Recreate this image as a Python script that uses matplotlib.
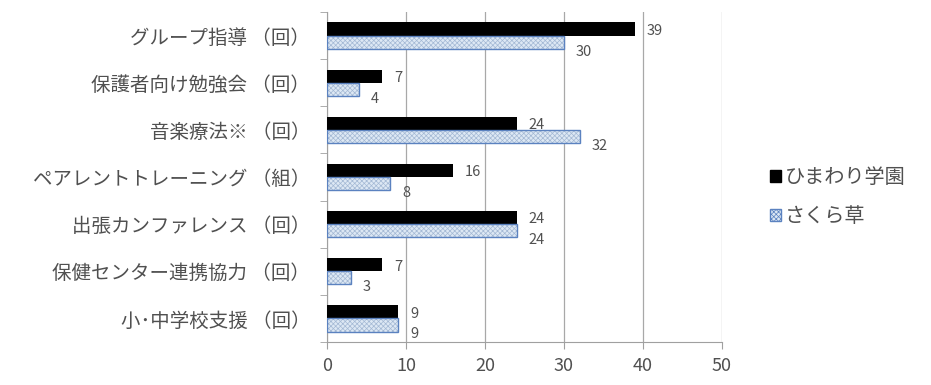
import matplotlib
matplotlib.use("Agg")
import matplotlib.pyplot as plt
import numpy as np
from matplotlib.patches import Patch

plt.rcParams['font.family'] = ['Noto Sans CJK JP', 'DejaVu Sans']
plt.rcParams['hatch.linewidth'] = 0.5

categories = ["グループ指導 （回）", "保護者向け勉強会 （回）", "音楽療法※ （回）",
              "ペアレントトレーニング （組）", "出張カンファレンス （回）",
              "保健センター連携協力 （回）", "小･中学校支援 （回）"]
himawari = [39, 7, 24, 16, 24, 7, 9]
sakura = [30, 4, 32, 8, 24, 3, 9]
series_names = ["ひまわり学園", "さくら草"]
xticks = [0, 10, 20, 30, 40, 50]

txt = "#505050"
blue_fill = "#dde8f4"
blue_hatch = "#a3b8d4"
blue_edge = "#5b82c0"

fig = plt.figure(figsize=(9.31, 3.85), dpi=100)
ax = fig.add_axes([327/931, 1-342/385, (722-327)/931, (342-12)/385])

n = len(categories)
y = np.arange(n)
h = 0.28
ax.barh(y - h/2, himawari, height=h, color="black", zorder=3)
# hatched fill, then a crisp outline on top
ax.barh(y + h/2, sakura, height=h, facecolor=blue_fill, edgecolor=blue_hatch,
        hatch="xxxxxxx", linewidth=0, zorder=3)
ax.barh(y + h/2, sakura, height=h, fill=False, edgecolor=blue_edge,
        linewidth=1.0, zorder=4)

for yi, v in zip(y, himawari):
    ax.text(v + 1.5, yi - h/2 + 0.04, str(v), va="center", ha="left",
            fontsize=10.5, color=txt)
for yi, v in zip(y, sakura):
    ax.text(v + 1.5, yi + h/2 + 0.2, str(v), va="center", ha="left",
            fontsize=10.5, color=txt)

ax.set_ylim(n - 0.5, -0.5)
ax.set_xlim(0, 50)
ax.set_xticks(xticks)
ax.set_xticklabels([str(t) for t in xticks], fontsize=13, color=txt)
ax.set_yticks(y)
ax.set_yticklabels(categories, fontsize=14, color=txt)
ax.set_yticks(np.arange(n + 1) - 0.5, minor=True)
ax.tick_params(axis="y", which="major", length=0, pad=12)
ax.tick_params(axis="y", which="minor", length=5, color="#a0a0a0")
ax.tick_params(axis="x", length=5, color="#a0a0a0", pad=6)
ax.grid(axis="x", color="#a8a8a8", linewidth=0.9, zorder=0)
for s in ["top", "right"]:
    ax.spines[s].set_visible(False)
for s in ["left", "bottom"]:
    ax.spines[s].set_color("#a0a0a0")

handles = [Patch(facecolor="black", edgecolor="black"),
           Patch(facecolor=blue_fill, edgecolor=blue_edge, hatch="xxxxxxx")]
fig.legend(handles, series_names, loc="center left", bbox_to_anchor=(752/931, 1-197/385),
           frameon=False, fontsize=14.5, labelcolor=txt, handlelength=0.55,
           handleheight=0.55, handletextpad=0.2, labelspacing=0.9)

fig.savefig("out.png", dpi=100)
